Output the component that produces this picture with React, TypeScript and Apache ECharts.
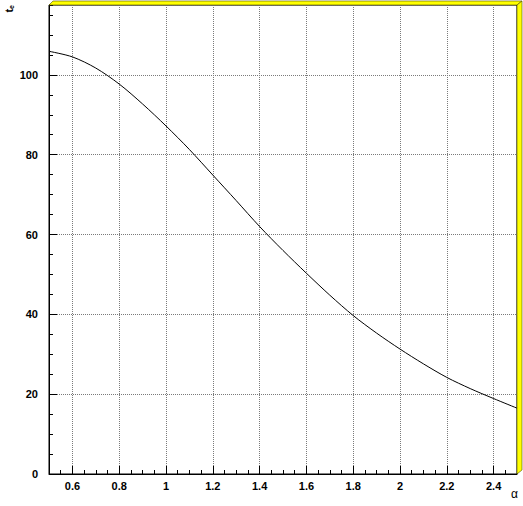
import React, { useEffect, useRef } from "react";
import * as echarts from "echarts";

const alpha = [0.5, 0.6, 0.7, 0.8, 0.9, 1.0, 1.1, 1.2, 1.3, 1.4, 1.5, 1.6, 1.7, 1.8, 1.9, 2.0, 2.1, 2.2, 2.3, 2.4, 2.5];
const te = [105.9, 104.5, 101.7, 97.7, 92.7, 87.2, 81.3, 74.9, 68.5, 62.0, 56.0, 50.3, 44.8, 39.7, 35.3, 31.3, 27.6, 24.2, 21.4, 18.9, 16.5];

const xMin = 0.5;
const xMax = 2.5;
const yMin = 0;
const yMax = 117.5;

const FONT = "'Liberation Sans', Arial, Helvetica, sans-serif";

export default function App() {
  const ref = useRef<HTMLDivElement>(null);
  useEffect(() => {
    if (!ref.current) return;
    const chart = echarts.init(ref.current, undefined, { renderer: "svg" });
    const gridLine = { show: true, lineStyle: { color: "#7a7a7a", type: [1, 1] as any, width: 1 } };
    const labelStyle = { color: "#000", fontFamily: FONT, fontWeight: "bold" as const, fontSize: 11 };
    chart.setOption({
      animation: false,
      backgroundColor: "#fff",
      grid: {
        left: 49,
        right: 6,
        top: 5,
        bottom: 32,
        show: true,
        borderColor: "#000",
        borderWidth: 1,
        backgroundColor: "transparent",
      },
      xAxis: [
        {
          type: "value",
          min: xMin,
          max: xMax,
          splitNumber: 10,
          position: "bottom",
          axisLine: { show: true, onZero: false, lineStyle: { color: "#000", width: 1 } },
          axisTick: { show: true, inside: true, length: 8, lineStyle: { color: "#000" } },
          axisLabel: { ...labelStyle, margin: 6, showMinLabel: false, showMaxLabel: false },
          splitLine: gridLine,
        },
        {
          type: "value",
          min: xMin,
          max: xMax,
          interval: 0.05,
          position: "bottom",
          offset: 0,
          axisLine: { show: false, onZero: false },
          axisTick: { show: true, inside: true, length: 4, lineStyle: { color: "#000" } },
          axisLabel: { show: false },
          splitLine: { show: false },
        },
      ],
      yAxis: [
        {
          type: "value",
          min: yMin,
          max: yMax,
          interval: 20,
          position: "left",
          axisLine: { show: true, onZero: false, lineStyle: { color: "#000", width: 1 } },
          axisTick: { show: true, inside: true, length: 8, lineStyle: { color: "#000" } },
          axisLabel: { ...labelStyle, margin: 11, showMaxLabel: false },
          splitLine: gridLine,
        },
        {
          type: "value",
          min: yMin,
          max: yMax,
          interval: 5,
          position: "left",
          offset: 0,
          axisLine: { show: false, onZero: false },
          axisTick: { show: true, inside: true, length: 4, lineStyle: { color: "#000" } },
          axisLabel: { show: false },
          splitLine: { show: false },
        },
      ],
      series: [
        {
          type: "line",
          xAxisIndex: 0,
          yAxisIndex: 0,
          data: alpha.map((a, i) => [a, te[i]]),
          smooth: 0.3,
          showSymbol: false,
          symbol: "none",
          lineStyle: { color: "#000", width: 1 },
        },
      ],
      graphic: [
        {
          type: "polygon",
          shape: { points: [[49, 5], [53, 1], [522, 1], [517, 5]] },
          style: { fill: "#ffff00", stroke: "#4a4a00", lineWidth: 0.6 },
          z: 10,
        },
        {
          type: "polygon",
          shape: { points: [[517, 5], [522, 1], [522, 470], [517, 474]] },
          style: { fill: "#ffff00", stroke: "#4a4a00", lineWidth: 0.6 },
          z: 10,
        },
        {
          type: "text",
          x: 518,
          y: 494,
          style: {
            text: "α",
            fill: "#000",
            font: `12px ${FONT}`,
            align: "right",
            verticalAlign: "middle",
          },
        },
        {
          type: "text",
          x: 9,
          y: 5,
          rotation: Math.PI / 2,
          style: {
            text: "{t|t}{e|e}",
            align: "right",
            verticalAlign: "middle",
            rich: {
              t: { fontFamily: FONT, fontWeight: "bold", fontSize: 11, fill: "#000", lineHeight: 11 },
              e: { fontFamily: FONT, fontWeight: "bold", fontSize: 7, fill: "#000", verticalAlign: "bottom", lineHeight: 11, padding: [4, 0, 0, 0] },
            },
          },
        },
      ],
    });
    return () => chart.dispose();
  }, []);
  return (
    <div
      ref={ref}
      style={{ position: "absolute", left: 0, top: 0, width: 523, height: 506 }}
    />
  );
}
